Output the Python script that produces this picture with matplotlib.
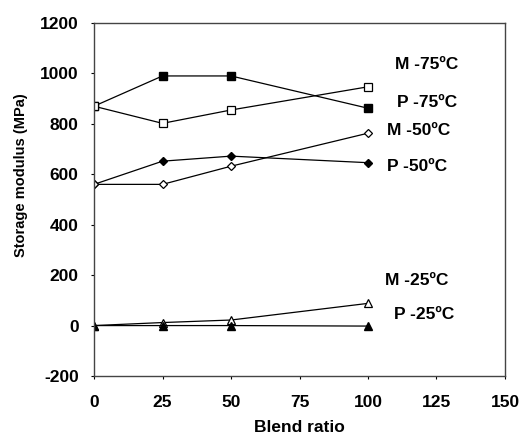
import matplotlib
matplotlib.use("Agg")
import matplotlib.pyplot as plt

# data
blend = [0, 25, 50, 100]

p75 = [870, 990, 990, 862]
m75 = [870, 802, 855, 947]
m50 = [560, 560, 632, 763]
p50 = [560, 652, 672, 646]
m25 = [0, 12, 22, 88]
p25 = [0, 0, 0, -2]

labels = ["M -75ºC", "P -75ºC", "M -50ºC", "P -50ºC", "M -25ºC", "P -25ºC"]
label_x = [110, 110.6, 106.9, 106.9, 106.2, 109.5]
label_y = [1035, 884, 773, 630, 177, 42]

plt.rcParams['font.family'] = ['Liberation Sans', 'DejaVu Sans']
plt.rcParams['font.weight'] = 'bold'
plt.rcParams['axes.unicode_minus'] = False

fig = plt.figure(figsize=(5.25, 4.38), dpi=100)
ax = fig.add_axes([94/525, 1 - 376/438, 411/525, 353/438])

lw = 0.9
ax.plot(blend, p75, color='black', lw=lw, marker='s', ms=6, mfc='black', mec='black')
ax.plot(blend, m75, color='black', lw=lw, marker='s', ms=6, mfc='white', mec='black', mew=0.9)
ax.plot(blend, p50, color='black', lw=lw, marker='D', ms=4.5, mfc='black', mec='black')
ax.plot(blend, m50, color='black', lw=lw, marker='D', ms=4.5, mfc='white', mec='black', mew=0.9)
ax.plot(blend, m25, color='black', lw=lw, marker='^', ms=6, mfc='white', mec='black', mew=0.9)
ax.plot(blend, p25, color='black', lw=lw, marker='^', ms=6, mfc='black', mec='black')

for t, x, y in zip(labels, label_x, label_y):
    ax.text(x, y, t, fontsize=12.5, fontweight='bold', va='center', ha='left')

ax.set_xlim(0, 150)
ax.set_ylim(-200, 1200)
ax.set_xticks([0, 25, 50, 75, 100, 125, 150])
ax.set_yticks(range(-200, 1201, 200))
ax.tick_params(labelsize=12.5, length=2, width=0.8)
ax.tick_params(axis='x', pad=12)
ax.tick_params(axis='y', pad=9)
for lab in ax.get_xticklabels() + ax.get_yticklabels():
    lab.set_fontweight('bold')

for s in ax.spines.values():
    s.set_color('#444444')
    s.set_linewidth(1.0)

ax.set_xlabel("Blend ratio", fontsize=12.5, fontweight='bold')
ax.xaxis.set_label_coords(0.5, -(420 - 376) / 353)
ax.xaxis.label.set_va('top')
ax.set_ylabel("Storage modulus (MPa)", fontsize=10.5, fontweight='bold')
ax.yaxis.set_label_coords(-(94 - 28) / 411, (376 - 175) / 353)

fig.savefig("out.png", dpi=100)
